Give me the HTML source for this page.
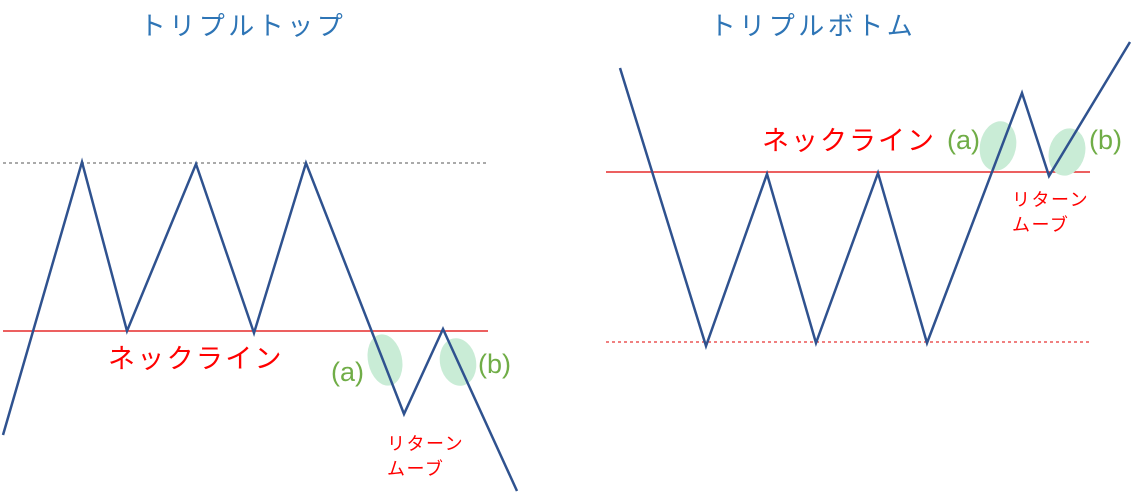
<!DOCTYPE html>
<html><head><meta charset="utf-8"><style>
html,body{margin:0;padding:0;background:#fff;}
svg{display:block;font-family:"Liberation Sans","Noto Sans CJK JP",sans-serif;}
</style></head><body>
<svg width="1145" height="496" viewBox="0 0 1145 496" xmlns="http://www.w3.org/2000/svg">
<rect width="1145" height="496" fill="#fff"/>
<!-- Left -->
<text x="243" y="35" font-size="26" fill="#2e75b6" text-anchor="middle" letter-spacing="3.5">トリプルトップ</text>
<line x1="3" y1="163" x2="488" y2="163" stroke="#555" stroke-width="1" stroke-dasharray="3,3"/>
<line x1="3" y1="331" x2="488" y2="331" stroke="#e00000" stroke-width="1.2"/>
<ellipse cx="385" cy="360" rx="17" ry="26" fill="#c9ecd6" transform="rotate(-12 385 360)"/>
<ellipse cx="458" cy="362" rx="18" ry="24" fill="#c9ecd6" transform="rotate(-12 458 362)"/>
<polyline points="3,435 82,162 127,331 196,164 254,333 306,163 404,414 443,329 517,491" fill="none" stroke="#2f528f" stroke-width="2.5" stroke-linejoin="miter"/>
<text x="108" y="368" font-size="27" fill="#ff0000" letter-spacing="2.3">ネックライン</text>
<text x="331" y="381" font-size="27" fill="#70ad47">(a)</text>
<text x="478" y="373" font-size="27" fill="#70ad47">(b)</text>
<text x="387" y="450" font-size="18" fill="#ff0000" letter-spacing="1.5">リターン</text>
<text x="387" y="475" font-size="18" fill="#ff0000" letter-spacing="1.5">ムーブ</text>
<!-- Right -->
<text x="813" y="35" font-size="26" fill="#2e75b6" text-anchor="middle" letter-spacing="3.5">トリプルボトム</text>
<line x1="606" y1="172" x2="1090" y2="172" stroke="#e00000" stroke-width="1.2"/>
<line x1="606" y1="342" x2="1090" y2="342" stroke="#e00000" stroke-width="1" stroke-dasharray="3,3"/>
<ellipse cx="998" cy="146" rx="18" ry="25" fill="#c9ecd6" transform="rotate(12 998 146)"/>
<ellipse cx="1067" cy="152" rx="18" ry="24" fill="#c9ecd6" transform="rotate(15 1067 152)"/>
<polyline points="620,68 706,346 767,174 816,343 878,173 927,343 1022,93 1049,176 1130,42" fill="none" stroke="#2f528f" stroke-width="2.5" stroke-linejoin="miter"/>
<text x="762" y="150" font-size="27" fill="#ff0000" letter-spacing="2">ネックライン</text>
<text x="947" y="149" font-size="27" fill="#70ad47">(a)</text>
<text x="1089" y="149" font-size="27" fill="#70ad47">(b)</text>
<text x="1012" y="206" font-size="18" fill="#ff0000" letter-spacing="1.5">リターン</text>
<text x="1012" y="231" font-size="18" fill="#ff0000" letter-spacing="1.5">ムーブ</text>
</svg>
</body></html>
